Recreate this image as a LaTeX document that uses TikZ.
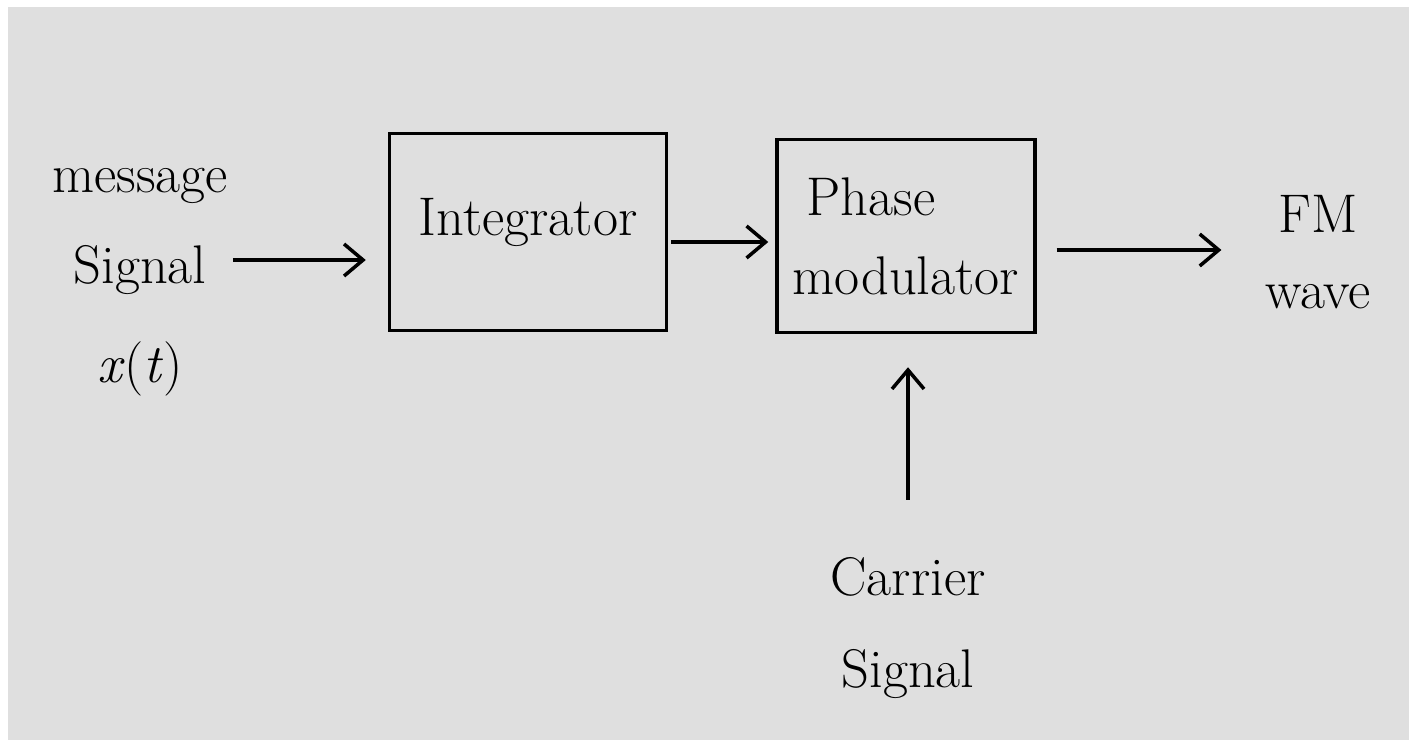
\documentclass[tikz,border=0pt]{standalone}
\usetikzlibrary{arrows.meta}
\definecolor{paper}{RGB}{223,223,223}
\begin{document}
\begin{tikzpicture}[x=0.02cm, y=-0.02cm, >={Straight Barb[length=0.38cm,width=0.64cm]}, line width=2pt,
  blok/.style={draw, minimum width=5.54cm, minimum height=3.94cm, align=center, font=\fontsize{31}{52}\selectfont},
  popis/.style={align=center, inner sep=0pt, font=\fontsize{31}{52}\selectfont}]

% pozadi
\fill[white] (0,0) rectangle (1409,740);
\fill[paper] (8,7) rectangle (1409,740);
\useasboundingbox (0,0) rectangle (1409,740);

% bloky
\node[blok] (integ) at (528,232) {\raisebox{0.6cm}{Integrator}};
\node[blok, minimum width=5.16cm, minimum height=3.86cm] (mod) at (906,236) {Phase\hspace*{1.4cm}\\[-0.25cm]modulator};

% vstup a vystup
\node[popis] (msg) at (140,282) {message\\Signal\\[0.15cm]\textit{x}(\textit{t})};
\node[popis] (fm) at (1318,252) {FM\\[-0.3cm]wave};

% nosna vlna
\node[popis] (car) at (908,628) {Carrier\\Signal};

% sipky
\draw[->, shorten <=2pt, shorten >=0.44cm] ([yshift=0.44cm]msg.east) -- ([yshift=0.44cm]msg.east -| integ.west);
\draw[->, shorten <=0.06cm, shorten >=0.14cm] ([yshift=-0.2cm]integ.east) -- ([yshift=-0.12cm]mod.west);
\draw[->, shorten <=0.4cm, shorten >=0.84cm] ([yshift=-0.28cm]mod.east) -- ([yshift=-0.28cm]mod.east -| fm.west);
\draw[->, shorten <=1.12cm, shorten >=0.66cm] (car.north) -- (car.north |- mod.south);

\end{tikzpicture}
\end{document}
